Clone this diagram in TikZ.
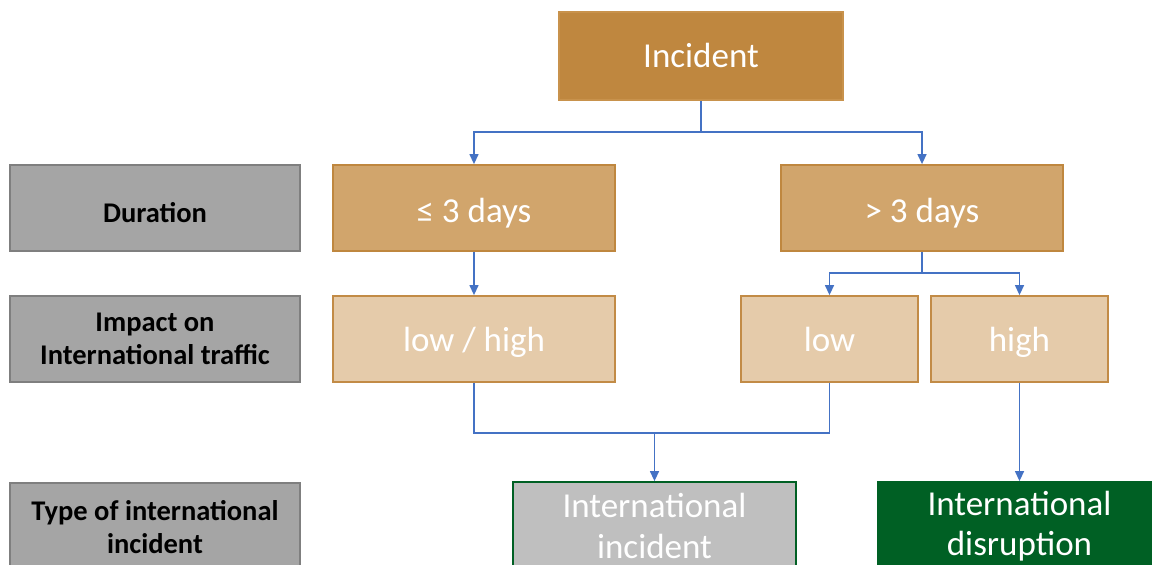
\documentclass[tikz,border=0pt]{standalone}
\usepackage{fontspec}
\setmainfont{Carlito}
\usetikzlibrary{arrows.meta}
\definecolor{brownA}{HTML}{BF873F}
\definecolor{brownAd}{HTML}{C8924C}
\definecolor{brownB}{HTML}{D1A56C}
\definecolor{brownBd}{HTML}{BF873F}
\definecolor{brownC}{HTML}{E5CBAA}
\definecolor{brownCd}{HTML}{C28B46}
\definecolor{labfill}{HTML}{A5A5A5}
\definecolor{labdraw}{HTML}{7F7F7F}
\definecolor{greyfill}{HTML}{BFBFBF}
\definecolor{greenD}{HTML}{006024}
\definecolor{connc}{HTML}{4472C4}
\begin{document}
\begin{tikzpicture}[x=1pt,y=-1pt,
  box/.style={rectangle, line width=1.8pt, minimum width=282pt, minimum height=86pt, inner sep=0pt, font=\fontsize{35}{40.4}\selectfont, text=white, align=center},
  lab/.style={rectangle, draw=labdraw, fill=labfill, line width=1.8pt, minimum width=290pt, minimum height=86pt, inner sep=0pt, font=\fontsize{28.5}{33}\selectfont\bfseries, text=black, align=center},
  conn/.style={draw=connc, line width=1.3pt},
  arr/.style={conn, -{Triangle[width=9pt,length=10pt]}}]
\clip (0,0) rectangle (1152,565);
\fill[white] (0,0) rectangle (1152,565);
% left labels
\node[lab, text height=28pt, text depth=0pt] (l1) at (155,208) {Duration};
\node[lab] (l2) at (155,339) {Impact on\\International traffic};
\node[lab, minimum height=88pt] (l3) at (155,527) {Type of international\\incident};
% main boxes
\node[box, fill=brownA, draw=brownAd, minimum width=284pt, minimum height=88pt, text height=23pt, text depth=0pt] (inc) at (701,56) {Incident};
\node[box, fill=brownB, draw=brownBd, text height=29pt, text depth=0pt] (le) at (474,208) {≤ 3 days};
\node[box, fill=brownB, draw=brownBd, text height=29pt, text depth=0pt] (gt) at (922,208) {> 3 days};
\node[box, fill=brownC, draw=brownCd, text height=24pt, text depth=0pt] (lh) at (474,339) {low / high};
\node[box, fill=brownC, draw=brownCd, minimum width=177pt, text height=24pt, text depth=0pt] (low) at (829.5,339) {low};
\node[box, fill=brownC, draw=brownCd, minimum width=177pt, text height=24pt, text depth=0pt] (high) at (1019.5,339) {high};
\node[box, fill=greyfill, draw=greenD, minimum width=283pt, minimum height=88pt] (ii) at (654.5,526) {International\\incident};
\node[box, fill=greenD, draw=greenD, minimum width=283pt, minimum height=88pt] (id) at (1019.5,526) {International\\disruption};
% connectors
\coordinate (j1) at (701,132);
\draw[conn] (inc.south) -- (j1);
\draw[arr] (j1) -| (le.north);
\draw[arr] (j1) -| (gt.north);
\draw[arr] (le.south) -- (lh.north);
\coordinate (j2) at (922,273);
\draw[conn] (gt.south) -- (j2);
\draw[arr] (j2) -| (low.north);
\draw[arr] (j2) -| (high.north);
\coordinate (j3) at (654.5,433);
\draw[conn] (lh.south) |- (j3);
\draw[conn] (low.south) |- (j3);
\draw[arr] (j3) -- (ii.north);
\draw[arr] (high.south) -- (id.north);
\end{tikzpicture}
\end{document}
